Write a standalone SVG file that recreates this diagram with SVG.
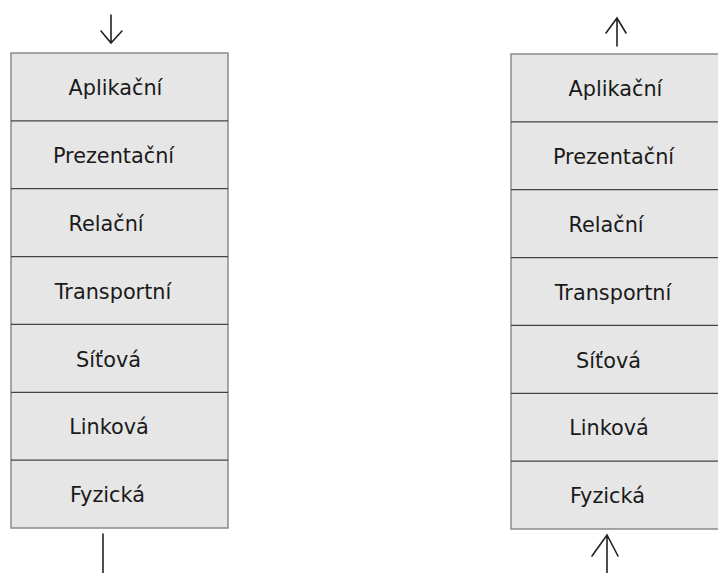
<svg xmlns="http://www.w3.org/2000/svg" width="718" height="573" viewBox="0 0 718 573">
  <style>
    .box { fill: #e6e6e6; stroke: #8a8a8a; stroke-width: 1.5; }
    .sep { stroke: #444444; stroke-width: 1.2; }
    .lbl { font-family: "DejaVu Sans", Verdana, sans-serif; font-size: 20.8px; fill: #1a1a1a; text-anchor: middle; }
    .arrow { fill: none; stroke: #222222; stroke-width: 1.6; stroke-linecap: round; stroke-linejoin: miter; }
  </style>

  <!-- Sending side: OSI stack -->
  <g id="stack-left">
    <rect class="box" x="11" y="53" width="217" height="475"/>
    <line class="sep" x1="11" y1="120.9" x2="228" y2="120.9"/>
    <line class="sep" x1="11" y1="188.7" x2="228" y2="188.7"/>
    <line class="sep" x1="11" y1="256.6" x2="228" y2="256.6"/>
    <line class="sep" x1="11" y1="324.4" x2="228" y2="324.4"/>
    <line class="sep" x1="11" y1="392.3" x2="228" y2="392.3"/>
    <line class="sep" x1="11" y1="460.1" x2="228" y2="460.1"/>
    <g id="l-aplikacni"><text class="lbl" x="115.5" y="95">Aplikační</text></g>
    <g id="l-prezentacni"><text class="lbl" x="113.5" y="163">Prezentační</text></g>
    <g id="l-relacni"><text class="lbl" x="106" y="231">Relační</text></g>
    <g id="l-transportni"><text class="lbl" x="113" y="298.5">Transportní</text></g>
    <g id="l-sitova"><text class="lbl" x="108.5" y="366.5">Síťová</text></g>
    <g id="l-linkova"><text class="lbl" x="109" y="434">Linková</text></g>
    <g id="l-fyzicka"><text class="lbl" x="107.5" y="502">Fyzická</text></g>
  </g>

  <!-- Receiving side: OSI stack -->
  <g id="stack-right">
    <rect class="box" x="511" y="54" width="217" height="475"/>
    <line class="sep" x1="511" y1="121.9" x2="728" y2="121.9"/>
    <line class="sep" x1="511" y1="189.7" x2="728" y2="189.7"/>
    <line class="sep" x1="511" y1="257.6" x2="728" y2="257.6"/>
    <line class="sep" x1="511" y1="325.4" x2="728" y2="325.4"/>
    <line class="sep" x1="511" y1="393.3" x2="728" y2="393.3"/>
    <line class="sep" x1="511" y1="461.1" x2="728" y2="461.1"/>
    <g id="r-aplikacni"><text class="lbl" x="615.5" y="96">Aplikační</text></g>
    <g id="r-prezentacni"><text class="lbl" x="613.5" y="164">Prezentační</text></g>
    <g id="r-relacni"><text class="lbl" x="606" y="232">Relační</text></g>
    <g id="r-transportni"><text class="lbl" x="613" y="299.5">Transportní</text></g>
    <g id="r-sitova"><text class="lbl" x="608.5" y="367.5">Síťová</text></g>
    <g id="r-linkova"><text class="lbl" x="609" y="435">Linková</text></g>
    <g id="r-fyzicka"><text class="lbl" x="607.5" y="503">Fyzická</text></g>
  </g>

  <!-- Data flow arrows -->
  <g id="connectors">
    <!-- into the sending stack -->
    <path class="arrow" d="M111 15 V43 M101 31 L111 43 L122 31"/>
    <!-- out of the sending stack -->
    <path class="arrow" d="M103 534 V573"/>
    <!-- into the receiving stack -->
    <path class="arrow" d="M607 535 V573 M592 556 L607 535 L618 556"/>
    <!-- out of the receiving stack -->
    <path class="arrow" d="M617 18 V46 M606 33 L617 18 L626 33"/>
  </g>
</svg>
